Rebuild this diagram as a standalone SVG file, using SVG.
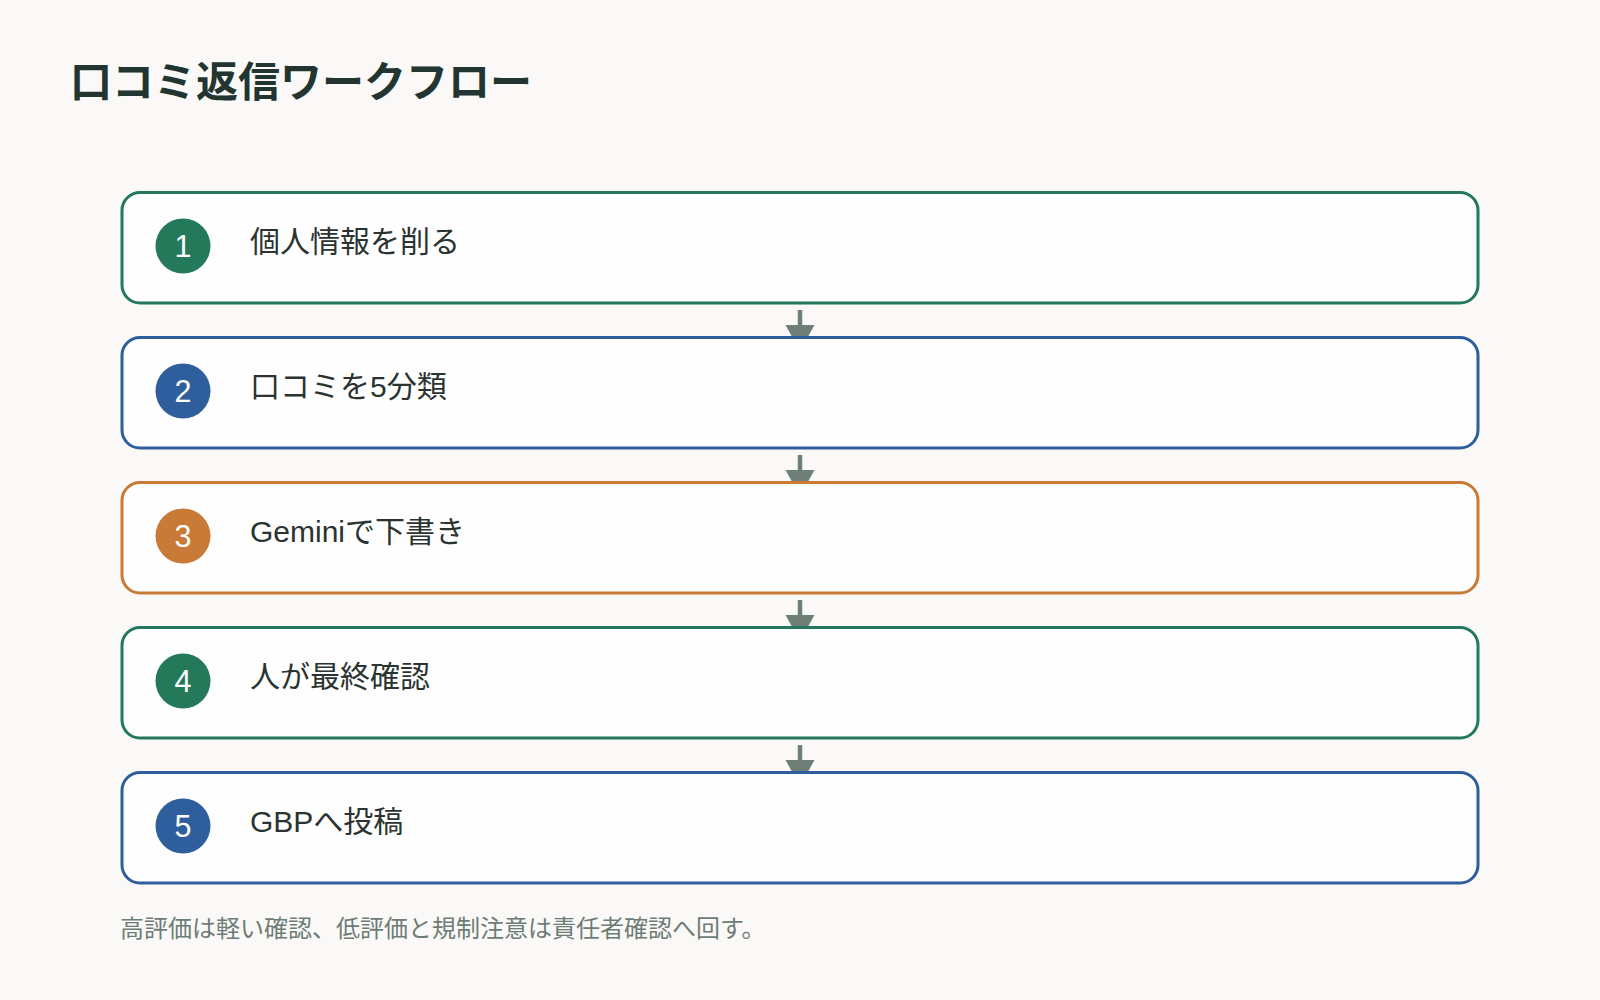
<svg xmlns="http://www.w3.org/2000/svg" width="1600" height="1000" viewBox="0 0 1600 1000">
<defs>
<style>
.bg{fill:#faf9f7}
.title{font-family:"Liberation Sans","Noto Sans CJK JP",sans-serif;font-weight:700;font-size:42px;fill:#223530}
.box{fill:#fefefe;stroke-width:3}
.g .box{stroke:#23795a}.g .num{fill:#23795a}
.b .box{stroke:#2e5f9c}.b .num{fill:#2e5f9c}
.o .box{stroke:#c87a36}.o .num{fill:#c87a36}
.numt{font-family:"Liberation Sans",sans-serif;font-size:30.5px;fill:#ffffff;text-anchor:middle}
.lbl{font-family:"Liberation Sans","Noto Sans CJK JP",sans-serif;font-size:30px;fill:#2b3330}
.foot{font-family:"Liberation Sans","Noto Sans CJK JP",sans-serif;font-size:24px;fill:#6e7c76}
.conn{stroke:#6e7f78;stroke-width:4.5;fill:none}
</style>
<marker id="ah" viewBox="0 -15 26 30" refX="0" refY="0" markerWidth="26" markerHeight="30" markerUnits="userSpaceOnUse" orient="auto">
<path d="M0,-14.5 L26,0 L0,14.5 Z" fill="#6e7f78"/>
</marker>
</defs>
<rect class="bg" x="0" y="0" width="1600" height="1000"/>
<text class="title" x="70" y="97">口コミ返信ワークフロー</text>
<g id="connectors">
<line class="conn" x1="800" y1="310" x2="800" y2="325" marker-end="url(#ah)"/>
<line class="conn" x1="800" y1="455" x2="800" y2="470" marker-end="url(#ah)"/>
<line class="conn" x1="800" y1="600" x2="800" y2="615" marker-end="url(#ah)"/>
<line class="conn" x1="800" y1="745" x2="800" y2="760" marker-end="url(#ah)"/>
</g>
<g id="step1" class="g">
<rect class="box" x="122" y="192.5" width="1356" height="110.5" rx="18"/>
<circle class="num" cx="183" cy="246" r="27.5"/>
<text class="numt" x="183" y="257">1</text>
<text class="lbl" x="250" y="251.5">個人情報を削る</text>
</g>
<g id="step2" class="b">
<rect class="box" x="122" y="337.5" width="1356" height="110.5" rx="18"/>
<circle class="num" cx="183" cy="391" r="27.5"/>
<text class="numt" x="183" y="402">2</text>
<text class="lbl" x="250" y="396.5">口コミを5分類</text>
</g>
<g id="step3" class="o">
<rect class="box" x="122" y="482.5" width="1356" height="110.5" rx="18"/>
<circle class="num" cx="183" cy="536" r="27.5"/>
<text class="numt" x="183" y="547">3</text>
<text class="lbl" x="250" y="541.5">Geminiで下書き</text>
</g>
<g id="step4" class="g">
<rect class="box" x="122" y="627.5" width="1356" height="110.5" rx="18"/>
<circle class="num" cx="183" cy="681" r="27.5"/>
<text class="numt" x="183" y="692">4</text>
<text class="lbl" x="250" y="686.5">人が最終確認</text>
</g>
<g id="step5" class="b">
<rect class="box" x="122" y="772.5" width="1356" height="110.5" rx="18"/>
<circle class="num" cx="183" cy="826" r="27.5"/>
<text class="numt" x="183" y="837">5</text>
<text class="lbl" x="250" y="831.5">GBPへ投稿</text>
</g>
<text class="foot" x="120" y="937">高評価は軽い確認、低評価と規制注意は責任者確認へ回す。</text>
</svg>
